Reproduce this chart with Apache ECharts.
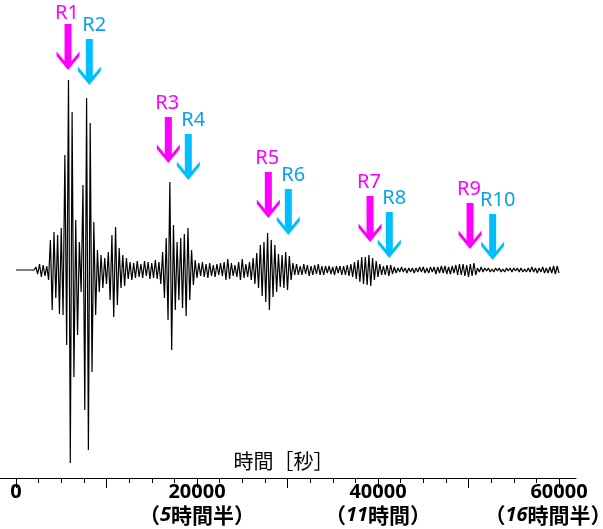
<!DOCTYPE html>
<html><head><meta charset="utf-8">
<script src="https://cdn.jsdelivr.net/npm/echarts/dist/echarts.min.js"></script>
<style>html,body{margin:0;padding:0;background:#fff}#chart{width:603px;height:529px}</style>
</head><body><div id="chart"></div>
<script>
// waveform samples (amplitude), one sample every 200 s
const sampleStep = 200;
const wave0to10k = [0,0,0,0,0,0,0,0,0,0,0,3,-4,6,-7,5,-6,4,-10,30,-40,38,-28,35,-44,42,-45,115,-75,190,-193,158,-107,50,-65,28,-22,85,-140,172,-180,147,-102,48,-45,20,-22,15,-18,12];
const wave10to20k = [-14,18,-30,35,-47,43,-35,22,-18,15,-16,12,-9,8,-10,7,-8,9,-7,6,-8,9,-6,8,-9,7,-8,10,-9,8,-14,18,-28,32,-50,88,-80,45,-40,28,-30,32,-38,36,-46,42,-30,20,-15,10];
const wave20to30k = [-8,7,-6,8,-7,6,-8,7,-6,5,-7,6,-5,7,-6,8,-10,11,-9,7,-6,5,-7,8,-10,11,-8,6,-7,8,-10,12,-14,17,-18,25,-26,28,-32,37,-40,30,-27,25,-22,16,-17,15,-18,18];
const wave30to40k = [-20,14,-10,7,-5,6,-5,4,-5,6,-4,5,-6,4,-5,5,-4,6,-5,4,-5,4,-3,4,-4,3,-5,4,-3,4,-5,4,-5,5,-6,6,-7,8,-9,10,-12,13,-14,13,-15,15,-16,12,-10,9];
const wave40to50k = [-7,6,-5,4,-5,5,-6,5,-4,3,-3,2,-2,3,-2,2,-3,2,-2,2,-3,2,-2,3,-2,3,-3,2,-3,3,-2,3,-4,3,-3,4,-3,4,-4,3,-4,4,-3,5,-5,6,-5,6,-6,5];
const wave50to60k = [-7,6,-6,7,-5,2,-2,3,-2,2,-1,2,-2,1,-2,2,-1,2,-2,1,-2,2,-1,2,-2,2,-1,2,-2,2,-2,1,-2,2,-2,3,-2,2,-3,2,-2,3,-3,2,-3,3,-3,4,-4,4,-3];

// arrows
const arrowNames = ['R1','R2','R3','R4','R5','R6','R7','R8','R9','R10'];
const arrowTimes = [5750, 8100, 16830, 19040, 27880, 30090, 39120, 41250, 50170, 52670];
const arrowTips  = [200, 185, 107, 90, 52, 35, 28, 12, 21, 10];

// tick labels
const tickValues = [0, 20000, 40000, 60000];
const tickMain = ['0', '20000', '40000', '60000'];
const tickSubNum = ['', '5', '11', '16'];
const tickSubText = ['', '時間半', '時間', '時間半'];

const waveData = [];
let k = 0;
[wave0to10k, wave10to20k, wave20to30k, wave30to40k, wave40to50k, wave50to60k].forEach(seg => {
  seg.forEach(v => { waveData.push([k * sampleStep, v]); k++; });
});

const oddData = [], evenData = [];
arrowNames.forEach((n, i) => {
  const item = {name: n, value: [arrowTimes[i], arrowTips[i]]};
  if (i === 0) item.label = {distance: 1};
  (i % 2 === 0 ? oddData : evenData).push(item);
});

const arrowPath = 'path://M8,0 L15,0 L15,37 L23,27.5 L23,32 L11.5,46 L0,32 L0,27.5 L8,37 Z';

function fmt(value) {
  const idx = tickValues.indexOf(Math.round(value));
  if (idx < 0) return '';
  if (!tickSubNum[idx]) return '{a|' + tickMain[idx] + '}';
  const close = idx === tickValues.length - 1 ? '{q|）}' : '{p|）}';
  return '{a|' + tickMain[idx] + '}\n{p|（}{n|' + tickSubNum[idx] + '}{p|' + tickSubText[idx] + '}' + close;
}

const cjk = 'Noto Sans CJK JP';
const chart = echarts.init(document.getElementById('chart'));
chart.setOption({
  animation: false,
  backgroundColor: '#fff',
  grid: [
    {left: 16, right: 44, top: 62, bottom: 51, containLabel: false, outerBoundsMode: 'none'},
    {left: 0, right: 27, top: 62, bottom: 51, containLabel: false, outerBoundsMode: 'none'}
  ],
  xAxis: [{
    type: 'value', gridIndex: 0, min: 0, max: 60000, interval: 10000,
    axisLine: {show: false, onZero: false},
    axisTick: {show: true, length: 10, lineStyle: {color: '#000', width: 1}},
    minorTick: {show: true, splitNumber: 4, length: 5, lineStyle: {color: '#000', width: 1}},
    splitLine: {show: false}, minorSplitLine: {show: false},
    axisLabel: {
      margin: 3, formatter: fmt, hideOverlap: false,
      rich: {
        a: {fontFamily: 'Noto Sans', fontSize: 20, fontWeight: 'bold', color: '#000', lineHeight: 22},
        p: {fontFamily: cjk, fontSize: 21, fontWeight: 'bold', color: '#000', lineHeight: 25},
        n: {fontFamily: 'Noto Sans', fontSize: 20, fontWeight: 'bold', fontStyle: 'italic', color: '#000', lineHeight: 25},
        q: {fontFamily: cjk, fontSize: 21, fontWeight: 'bold', color: '#000', lineHeight: 25, padding: [0, 22, 0, 0]}
      }
    },
    name: '時間［秒］', nameLocation: 'middle', nameGap: -27,
    nameTextStyle: {fontFamily: cjk, fontSize: 20, color: '#000', padding: [0, 8, 0, 0]}
  }, {
    type: 'value', gridIndex: 1, min: -1768, max: 61878,
    axisLine: {show: true, onZero: false, lineStyle: {color: '#000', width: 1}},
    axisTick: {show: false}, axisLabel: {show: false}, splitLine: {show: false}
  }],
  yAxis: [
    {type: 'value', gridIndex: 0, min: -208, max: 208, show: false},
    {type: 'value', gridIndex: 1, min: 0, max: 1, show: false}
  ],
  series: [{
    type: 'line', xAxisIndex: 0, yAxisIndex: 0, data: waveData,
    showSymbol: false, symbol: 'none', clip: false, silent: true,
    lineStyle: {color: '#000', width: 1.2}
  }, {
    type: 'scatter', xAxisIndex: 0, yAxisIndex: 0, data: oddData, clip: false, silent: true, z: 5,
    symbol: arrowPath, symbolSize: [23, 46], symbolOffset: [0, '-50%'],
    itemStyle: {color: '#ff00ff', opacity: 1},
    label: {show: true, position: 'top', distance: 4, formatter: '{b}', color: '#ff00ff',
            fontFamily: 'Noto Sans', fontSize: 20, offset: [-1, 0]}
  }, {
    type: 'scatter', xAxisIndex: 0, yAxisIndex: 0, data: evenData, clip: false, silent: true, z: 5,
    symbol: arrowPath, symbolSize: [23, 46], symbolOffset: [0, '-50%'],
    itemStyle: {color: '#00bfff', opacity: 1},
    label: {show: true, position: 'top', distance: 4, formatter: '{b}', color: '#0aa0f0',
            fontFamily: 'Noto Sans', fontSize: 20, offset: [5, 0]}
  }]
});
</script></body></html>
